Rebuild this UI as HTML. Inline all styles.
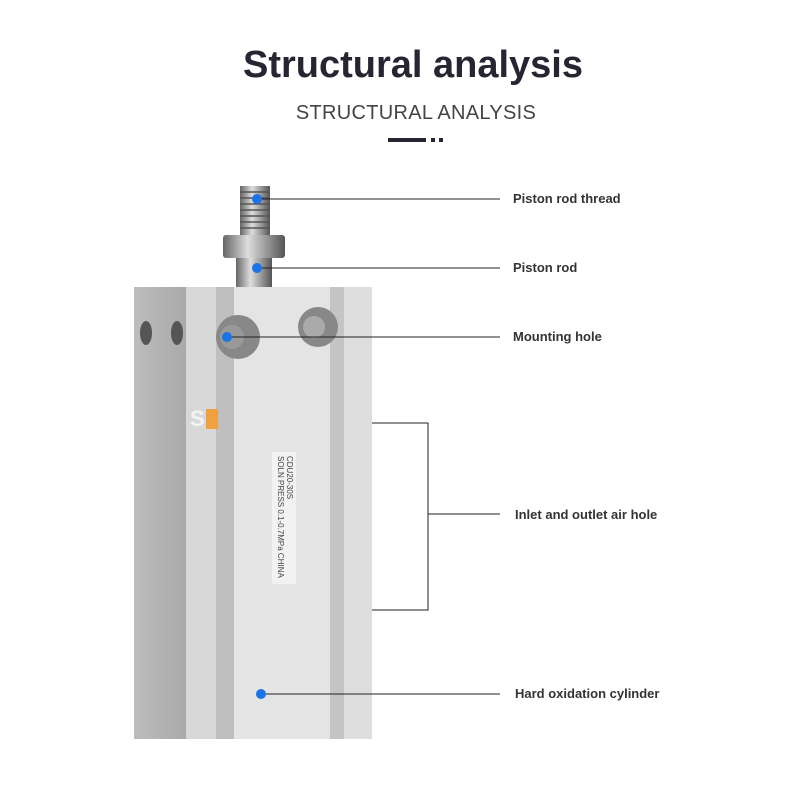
<!DOCTYPE html>
<html><head><meta charset="utf-8"><style>
body{margin:0;width:800px;height:800px;background:#fff;overflow:hidden}
</style></head><body>
<svg width="800" height="800" viewBox="0 0 800 800" xmlns="http://www.w3.org/2000/svg">
<defs>
<linearGradient id="rod" x1="0" x2="1"><stop offset="0" stop-color="#666"/><stop offset=".4" stop-color="#ddd"/><stop offset="1" stop-color="#555"/></linearGradient>
<linearGradient id="side" x1="0" x2="1"><stop offset="0" stop-color="#bdbdbd"/><stop offset="1" stop-color="#a9a9a9"/></linearGradient>
</defs>
<text x="413" y="77" text-anchor="middle" font-family="Liberation Sans,sans-serif" font-weight="bold" font-size="38" fill="#262633">Structural analysis</text>
<text x="416" y="119" text-anchor="middle" font-family="Liberation Sans,sans-serif" font-size="20" fill="#444" letter-spacing="0.3">STRUCTURAL ANALYSIS</text>
<rect x="388" y="138" width="38" height="4" fill="#262633"/><rect x="431" y="138" width="4" height="4" fill="#262633"/><rect x="439" y="138" width="4" height="4" fill="#262633"/>
<rect x="240" y="186" width="30" height="50" fill="url(#rod)"/>
<g stroke="#555" stroke-width="1.5"><line x1="240" y1="192" x2="270" y2="192"/><line x1="240" y1="198" x2="270" y2="198"/><line x1="240" y1="204" x2="270" y2="204"/><line x1="240" y1="210" x2="270" y2="210"/><line x1="240" y1="216" x2="270" y2="216"/><line x1="240" y1="222" x2="270" y2="222"/><line x1="240" y1="228" x2="270" y2="228"/></g>
<rect x="223" y="235" width="62" height="23" rx="3" fill="url(#rod)"/>
<rect x="236" y="258" width="36" height="30" fill="url(#rod)"/>
<rect x="134" y="287" width="52" height="452" fill="url(#side)"/>
<rect x="186" y="287" width="186" height="452" fill="#e4e4e4"/>
<rect x="186" y="287" width="30" height="452" fill="#d8d8d8"/>
<rect x="216" y="287" width="18" height="452" fill="#bfbfbf"/>
<rect x="330" y="287" width="14" height="452" fill="#c4c4c4"/>
<rect x="344" y="287" width="28" height="452" fill="#dedede"/>
<ellipse cx="146" cy="333" rx="6" ry="12" fill="#555"/><ellipse cx="177" cy="333" rx="6" ry="12" fill="#555"/>
<circle cx="238" cy="337" r="22" fill="#888"/><circle cx="232" cy="337" r="12" fill="#999"/>
<circle cx="318" cy="327" r="20" fill="#888"/><circle cx="314" cy="327" r="11" fill="#aaa"/>
<text x="190" y="426" font-family="Liberation Sans,sans-serif" font-weight="bold" font-size="22" fill="#f3f3f3">S</text><rect x="206" y="409" width="12" height="20" fill="#f0a040"/>
<rect x="272" y="452" width="24" height="132" fill="#f2f2f2"/>
<text transform="translate(287,456) rotate(90)" font-family="Liberation Sans,sans-serif" font-size="8" fill="#444">CDU20-30S</text>
<text transform="translate(278,456) rotate(90)" font-family="Liberation Sans,sans-serif" font-size="8" fill="#444">SOLN PRESS 0.1-0.7MPa CHINA</text>
<g fill="#1a73e8"><circle cx="257" cy="199" r="5"/><circle cx="257" cy="268" r="5"/><circle cx="227" cy="337" r="5"/><circle cx="261" cy="694" r="5"/></g>
<g stroke="#222" stroke-width="1" fill="none">
<line x1="262" y1="199" x2="500" y2="199"/><line x1="262" y1="268" x2="500" y2="268"/><line x1="232" y1="337" x2="500" y2="337"/>
<polyline points="372,423 428,423 428,610 372,610"/><line x1="428" y1="514" x2="500" y2="514"/>
<line x1="266" y1="694" x2="500" y2="694"/></g>
<g font-family="Liberation Sans,sans-serif" font-weight="bold" font-size="13" fill="#333">
<text x="513" y="203">Piston rod thread</text><text x="513" y="272">Piston rod</text><text x="513" y="341">Mounting hole</text>
<text x="515" y="519">Inlet and outlet air hole</text><text x="515" y="698">Hard oxidation cylinder</text></g>
</svg>
</body></html>
